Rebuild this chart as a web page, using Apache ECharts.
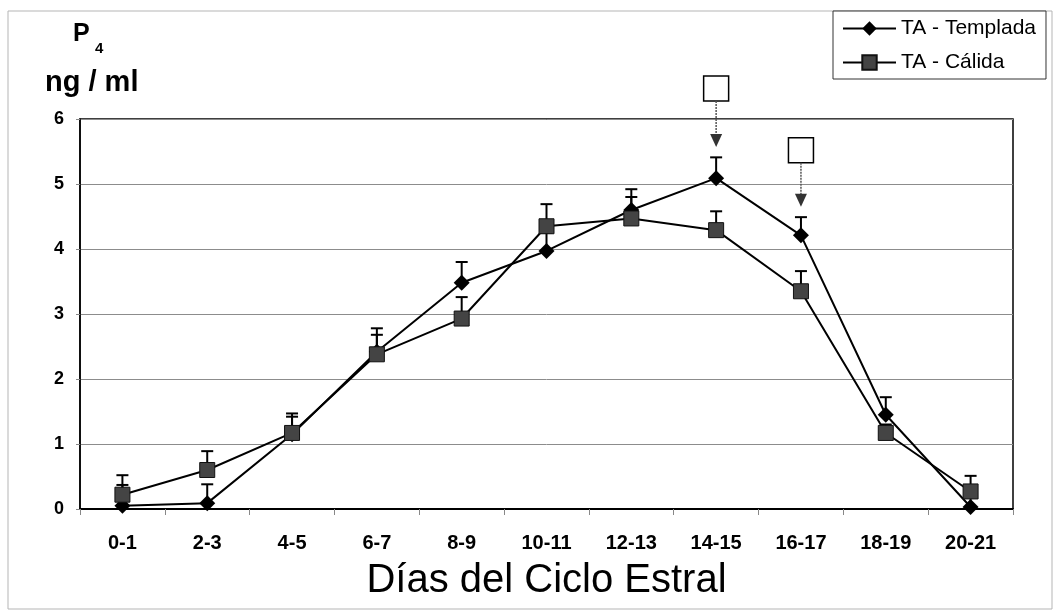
<!DOCTYPE html>
<html>
<head>
<meta charset="utf-8">
<script src="https://cdn.jsdelivr.net/npm/echarts@6/dist/echarts.min.js"></script>
<style>
html,body{margin:0;padding:0;background:#fff;}
#main{width:1054px;height:614px;}
</style>
</head>
<body>
<div id="main"></div>
<script>
var dias = ['0-1','2-3','4-5','6-7','8-9','10-11','12-13','14-15','16-17','18-19','20-21'];
var templada = [0.05, 0.09, 1.15, 2.42, 3.48, 3.97, 4.60, 5.09, 4.21, 1.45, 0.03];
var templadaSup = [0.37, 0.38, 1.42, 2.68, 3.80, 4.25, 4.92, 5.41, 4.49, 1.72, 0.20];
var calida = [0.22, 0.60, 1.17, 2.38, 2.93, 4.35, 4.47, 4.29, 3.35, 1.17, 0.27];
var calidaSup = [0.52, 0.89, 1.47, 2.78, 3.26, 4.69, 4.80, 4.58, 3.66, 1.30, 0.51];
// recuadros con flecha (14-15 y 16-17)
var marcaDias = [7, 8];
var marcaCaja = [6.47, 5.52];
var marcaPunta = [5.57, 4.65];

var fuente = '"Liberation Sans", Arial, sans-serif';

function barras(media, sup){
	var d = [];
	for(var i=0;i<media.length;i++){
		d.push([i, media[i], sup[i]]);
	}
	return d;
}

function dibujaBarra(params, api){
	var x = api.value(0);
	var p0 = api.coord([x, api.value(1)]);
	var p1 = api.coord([x, api.value(2)]);
	var w = 6;
	return {
		type: 'group',
		children: [
			{type:'line', shape:{x1:p0[0], y1:p0[1], x2:p1[0], y2:p1[1]}, style:{stroke:'#000', lineWidth:2}},
			{type:'line', shape:{x1:p1[0]-w, y1:p1[1], x2:p1[0]+w, y2:p1[1]}, style:{stroke:'#000', lineWidth:2}}
		]
	};
}

function dibujaMarca(params, api){
	var c = api.coord([api.value(0), api.value(1)]);
	var t = api.coord([api.value(0), api.value(2)]);
	var h = 12.5;
	return {
		type: 'group',
		children: [
			{type:'rect', shape:{x:c[0]-h, y:c[1]-h, width:2*h, height:2*h}, style:{fill:'#fff', stroke:'#000', lineWidth:1.5}},
			{type:'line', shape:{x1:c[0], y1:c[1]+h, x2:c[0], y2:t[1]-12}, style:{stroke:'#555', lineWidth:1.5, lineDash:[2,1]}},
			{type:'polygon', shape:{points:[[c[0]-6, t[1]-13], [c[0]+6, t[1]-13], [c[0], t[1]]]}, style:{fill:'#333'}}
		]
	};
}

var marcas = [];
for(var k=0;k<marcaDias.length;k++){
	marcas.push([marcaDias[k], marcaCaja[k], marcaPunta[k]]);
}

var chart = echarts.init(document.getElementById('main'));
var option = {
	backgroundColor: '#fff',
	animation: false,
	textStyle: {fontFamily: fuente},
	graphic: [
		{type:'rect', shape:{x:8, y:11, width:1044, height:598}, style:{fill:null, stroke:'#b5b5b5', lineWidth:1}, z:-1},
		{type:'text', left:73, top:22, style:{text:'P', font:'bold 25px ' + fuente, fill:'#000'}},
		{type:'text', left:95, top:41, style:{text:'4', font:'bold 15px ' + fuente, fill:'#000'}},
		{type:'text', left:45, top:68, style:{text:'ng / ml', font:'bold 29px ' + fuente, fill:'#000'}}
	],
	legend: {
		data: ['TA - Templada', 'TA - Cálida'],
		orient: 'vertical',
		left: 833,
		top: 11,
		itemWidth: 53,
		itemHeight: 18,
		itemGap: 13,
		padding: [7, 10, 6, 9],
		borderColor: '#333',
		borderWidth: 1,
		backgroundColor: '#fff',
		textStyle: {fontSize: 21, color: '#000', fontFamily: fuente}
	},
	grid: {
		left: 80,
		right: 41,
		top: 119,
		bottom: 105,
		show: true,
		borderColor: '#000',
		borderWidth: 1.5,
		backgroundColor: '#fff',
		containLabel: false,
		outerBoundsMode: 'none'
	},
	xAxis: {
		type: 'category',
		data: dias,
		boundaryGap: true,
		name: 'Días del Ciclo Estral',
		nameLocation: 'middle',
		nameGap: 52,
		nameTextStyle: {fontSize: 40, color: '#000', fontFamily: fuente},
		axisLine: {lineStyle: {color: '#000', width: 2}},
		axisTick: {show: true, length: 6, lineStyle: {color: '#888'}},
		axisLabel: {fontSize: 20, fontWeight: 'bold', color: '#000', margin: 24, interval: 0}
	},
	yAxis: {
		type: 'value',
		min: 0,
		max: 6,
		interval: 1,
		axisLine: {show: true, lineStyle: {color: '#000', width: 1.5}},
		axisTick: {show: true, length: 4, lineStyle: {color: '#888'}},
		axisLabel: {fontSize: 18, fontWeight: 'bold', color: '#000', margin: 16},
		splitLine: {lineStyle: {color: '#8c8c8c', width: 1}}
	},
	series: [
		{
			name: 'errTemplada',
			type: 'custom',
			renderItem: dibujaBarra,
			data: barras(templada, templadaSup),
			encode: {x: 0, y: [1, 2]},
			z: 1,
			silent: true
		},
		{
			name: 'errCalida',
			type: 'custom',
			renderItem: dibujaBarra,
			data: barras(calida, calidaSup),
			encode: {x: 0, y: [1, 2]},
			z: 1,
			silent: true
		},
		{
			name: 'TA - Templada',
			type: 'line',
			data: templada,
			symbol: 'diamond',
			symbolSize: 16,
			itemStyle: {color: '#000'},
			lineStyle: {color: '#000', width: 2},
			z: 3
		},
		{
			name: 'TA - Cálida',
			type: 'line',
			data: calida,
			symbol: 'rect',
			symbolSize: 15,
			itemStyle: {color: '#444', borderColor: '#111', borderWidth: 1},
			lineStyle: {color: '#000', width: 2},
			z: 4
		},
		{
			name: 'marcas',
			type: 'custom',
			renderItem: dibujaMarca,
			data: marcas,
			encode: {x: 0, y: [1, 2]},
			clip: false,
			z: 5,
			silent: true
		}
	]
};
chart.setOption(option);
</script>
</body>
</html>
